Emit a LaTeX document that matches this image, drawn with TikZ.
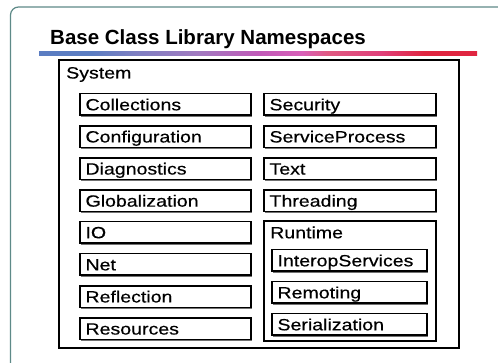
\documentclass[tikz,border=0pt]{standalone}
\usepackage{fontspec}
\setmainfont{Liberation Sans}
\newfontfamily\itemfont[FakeStretch=1.2, FakeBold=0.4]{Liberation Sans}
\usetikzlibrary{shadows}

\definecolor{framecol}{HTML}{5E8A88}
\definecolor{barA}{HTML}{5B7DC2}
\definecolor{barB}{HTML}{7E7FC2}
\definecolor{barC}{HTML}{A07AC0}
\definecolor{barD}{HTML}{C05AB8}
\definecolor{barE}{HTML}{D860B8}
\definecolor{barF}{HTML}{E05A82}
\definecolor{barG}{HTML}{E0407A}
\definecolor{barH}{HTML}{E02540}

% coloured rule under the heading, blue on the left to red on the right
\pgfdeclarehorizontalshading{titlebar}{100bp}{%
  color(0bp)=(barA); color(25bp)=(barA); color(31bp)=(barA);
  color(36bp)=(barB); color(43bp)=(barC); color(50bp)=(barD);
  color(55bp)=(barE); color(58bp)=(barF); color(64bp)=(barG);
  color(69bp)=(barH); color(75bp)=(barH); color(100bp)=(barH)}

\tikzset{
  boxshadow/.style={drop shadow={shadow xshift=1.4pt, shadow yshift=-1.4pt,
      fill=black!55, opacity=1}},
  itembox/.style={draw=black, line width=1.5pt, fill=white, boxshadow,
    outer sep=0pt, inner xsep=5.5pt, inner ysep=0pt,
    minimum height=21.5pt, text height=11.7pt, text depth=0pt,
    anchor=west, align=left,
    font=\itemfont\fontsize{16.3}{18}\selectfont},
  groupbox/.style={draw=black, line width=1.5pt, fill=white, boxshadow,
    outer sep=0pt, inner sep=0pt, anchor=north west},
  grouplabel/.style={anchor=base west, inner sep=0pt,
    font=\itemfont\fontsize{16.3}{18}\selectfont},
}

\begin{document}
\begin{tikzpicture}[x=1pt, y=-1pt]
  \fill[white] (0,0) rectangle (498,363);
  \useasboundingbox (0,0) rectangle (498,363);

  % slide frame with rounded top-left corner
  \draw[framecol, line width=1.2pt, rounded corners=8pt]
    (10.5,366) |- (501,7);

  % heading and coloured rule
  \node[anchor=base west, inner sep=0pt,
        font=\bfseries\fontsize{20.5}{24}\selectfont]
    (title) at (50,44.5) {Base Class Library Namespaces};
  \fill[shading=titlebar] (39,52) rectangle (477,56);

  % System namespace
  \node[groupbox, minimum width=400pt, minimum height=288pt]
    (system) at (59,60) {};
  \node[grouplabel] (systemlabel) at (66,78.5) {System};

  % left column
  \node[itembox, text width=160pt] (collections)   at (80,104.5) {Collections};
  \node[itembox, text width=160pt] (configuration) at (80,136.6) {Configuration};
  \node[itembox, text width=160pt] (diagnostics)   at (80,168.7) {Diagnostics};
  \node[itembox, text width=160pt] (globalization) at (80,200.8) {Globalization};
  \node[itembox, text width=160pt] (io)            at (80,232.4) {IO};
  \node[itembox, text width=160pt] (net)           at (80,264.5) {Net};
  \node[itembox, text width=160pt] (reflection)    at (80,296.6) {Reflection};
  \node[itembox, text width=160pt] (resources)     at (80,328.7) {Resources};

  % right column
  \node[itembox, text width=161pt] (security)       at (264,104.5) {Security};
  \node[itembox, text width=161pt] (serviceprocess) at (264,136.6) {ServiceProcess};
  \node[itembox, text width=161pt] (text)           at (264,168.7) {Text};
  \node[itembox, text width=161pt] (threading)      at (264,200.8) {Threading};

  % Runtime namespace and its children
  \node[groupbox, minimum width=172pt, minimum height=120pt]
    (runtime) at (264,221) {};
  \node[grouplabel] (runtimelabel) at (270,238.3) {Runtime};
  \node[itembox, text width=144pt] (interop)       at (272,260.5) {InteropServices};
  \node[itembox, text width=144pt] (remoting)      at (272,292.5) {Remoting};
  \node[itembox, text width=144pt] (serialization) at (272,324.5) {Serialization};
\end{tikzpicture}
\end{document}
